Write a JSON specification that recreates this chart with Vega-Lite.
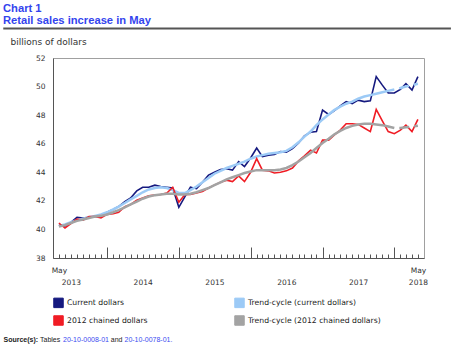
{
  "$schema": "https://vega.github.io/schema/vega-lite/v6.json",
  "width": 371,
  "height": 200,
  "autosize": {"type": "none"},
  "padding": {"left": 53, "top": 58, "right": 27, "bottom": 92},
  "background": "white",
  "config": {
    "view": {"stroke": "#a0a0a0", "strokeWidth": 1},
    "axis": {"grid": false}
  },
  "title": {
    "text": ["Chart 1", "Retail sales increase in May"],
    "anchor": "start",
    "frame": "group",
    "dx": -50,
    "offset": 1,
    "font": "Liberation Sans",
    "fontSize": 11.2,
    "fontWeight": "bold",
    "color": "#3344ee",
    "lineHeight": 12.5
  },
  "datasets": {
    "d": [
      {"date": "2013-05-01", "cur": 40.30, "tcc": 40.25, "ch": 40.45, "tch": 40.20},
      {"date": "2013-06-01", "cur": 40.25, "tcc": 40.35, "ch": 40.10, "tch": 40.30},
      {"date": "2013-07-01", "cur": 40.50, "tcc": 40.50, "ch": 40.40, "tch": 40.45},
      {"date": "2013-08-01", "cur": 40.85, "tcc": 40.65, "ch": 40.72, "tch": 40.60},
      {"date": "2013-09-01", "cur": 40.80, "tcc": 40.75, "ch": 40.65, "tch": 40.70},
      {"date": "2013-10-01", "cur": 40.85, "tcc": 40.85, "ch": 40.90, "tch": 40.80},
      {"date": "2013-11-01", "cur": 40.90, "tcc": 40.95, "ch": 40.90, "tch": 40.90},
      {"date": "2013-12-01", "cur": 40.95, "tcc": 41.05, "ch": 40.80, "tch": 40.95},
      {"date": "2014-01-01", "cur": 41.20, "tcc": 41.20, "ch": 41.05, "tch": 41.05},
      {"date": "2014-02-01", "cur": 41.40, "tcc": 41.40, "ch": 41.10, "tch": 41.20},
      {"date": "2014-03-01", "cur": 41.60, "tcc": 41.60, "ch": 41.20, "tch": 41.35},
      {"date": "2014-04-01", "cur": 41.95, "tcc": 41.85, "ch": 41.60, "tch": 41.55},
      {"date": "2014-05-01", "cur": 42.20, "tcc": 42.10, "ch": 41.75, "tch": 41.75},
      {"date": "2014-06-01", "cur": 42.70, "tcc": 42.35, "ch": 42.05, "tch": 41.95},
      {"date": "2014-07-01", "cur": 42.95, "tcc": 42.60, "ch": 42.20, "tch": 42.15},
      {"date": "2014-08-01", "cur": 42.95, "tcc": 42.80, "ch": 42.35, "tch": 42.30},
      {"date": "2014-09-01", "cur": 43.10, "tcc": 42.90, "ch": 42.40, "tch": 42.40},
      {"date": "2014-10-01", "cur": 43.00, "tcc": 42.95, "ch": 42.45, "tch": 42.45},
      {"date": "2014-11-01", "cur": 42.95, "tcc": 42.90, "ch": 42.55, "tch": 42.50},
      {"date": "2014-12-01", "cur": 42.90, "tcc": 42.75, "ch": 42.95, "tch": 42.50},
      {"date": "2015-01-01", "cur": 41.55, "tcc": 42.55, "ch": 41.90, "tch": 42.45},
      {"date": "2015-02-01", "cur": 42.30, "tcc": 42.55, "ch": 42.45, "tch": 42.45},
      {"date": "2015-03-01", "cur": 42.95, "tcc": 42.75, "ch": 42.45, "tch": 42.50},
      {"date": "2015-04-01", "cur": 42.85, "tcc": 43.00, "ch": 42.55, "tch": 42.60},
      {"date": "2015-05-01", "cur": 43.30, "tcc": 43.30, "ch": 42.65, "tch": 42.75},
      {"date": "2015-06-01", "cur": 43.80, "tcc": 43.60, "ch": 42.90, "tch": 42.90},
      {"date": "2015-07-01", "cur": 44.00, "tcc": 43.90, "ch": 43.10, "tch": 43.10},
      {"date": "2015-08-01", "cur": 44.20, "tcc": 44.10, "ch": 43.30, "tch": 43.30},
      {"date": "2015-09-01", "cur": 44.25, "tcc": 44.30, "ch": 43.45, "tch": 43.50},
      {"date": "2015-10-01", "cur": 44.15, "tcc": 44.45, "ch": 43.35, "tch": 43.65},
      {"date": "2015-11-01", "cur": 44.75, "tcc": 44.60, "ch": 43.75, "tch": 43.80},
      {"date": "2015-12-01", "cur": 44.40, "tcc": 44.75, "ch": 43.35, "tch": 43.95},
      {"date": "2016-01-01", "cur": 45.00, "tcc": 44.95, "ch": 44.00, "tch": 44.05},
      {"date": "2016-02-01", "cur": 45.70, "tcc": 45.10, "ch": 44.95, "tch": 44.15},
      {"date": "2016-03-01", "cur": 45.10, "tcc": 45.20, "ch": 44.15, "tch": 44.15},
      {"date": "2016-04-01", "cur": 45.20, "tcc": 45.30, "ch": 44.10, "tch": 44.15},
      {"date": "2016-05-01", "cur": 45.25, "tcc": 45.35, "ch": 43.95, "tch": 44.15},
      {"date": "2016-06-01", "cur": 45.45, "tcc": 45.40, "ch": 44.00, "tch": 44.20},
      {"date": "2016-07-01", "cur": 45.40, "tcc": 45.50, "ch": 44.10, "tch": 44.30},
      {"date": "2016-08-01", "cur": 45.65, "tcc": 45.75, "ch": 44.30, "tch": 44.50},
      {"date": "2016-09-01", "cur": 46.05, "tcc": 46.10, "ch": 44.80, "tch": 44.75},
      {"date": "2016-10-01", "cur": 46.55, "tcc": 46.50, "ch": 45.15, "tch": 45.05},
      {"date": "2016-11-01", "cur": 46.80, "tcc": 46.85, "ch": 45.55, "tch": 45.35},
      {"date": "2016-12-01", "cur": 46.85, "tcc": 47.30, "ch": 45.35, "tch": 45.70},
      {"date": "2017-01-01", "cur": 48.35, "tcc": 47.70, "ch": 46.25, "tch": 46.05},
      {"date": "2017-02-01", "cur": 48.05, "tcc": 48.05, "ch": 46.25, "tch": 46.35},
      {"date": "2017-03-01", "cur": 48.30, "tcc": 48.35, "ch": 46.60, "tch": 46.65},
      {"date": "2017-04-01", "cur": 48.65, "tcc": 48.60, "ch": 46.95, "tch": 46.90},
      {"date": "2017-05-01", "cur": 48.95, "tcc": 48.80, "ch": 47.40, "tch": 47.10},
      {"date": "2017-06-01", "cur": 48.80, "tcc": 48.95, "ch": 47.40, "tch": 47.25},
      {"date": "2017-07-01", "cur": 49.05, "tcc": 49.15, "ch": 47.35, "tch": 47.35},
      {"date": "2017-08-01", "cur": 48.95, "tcc": 49.30, "ch": 47.10, "tch": 47.40},
      {"date": "2017-09-01", "cur": 49.00, "tcc": 49.40, "ch": 46.85, "tch": 47.40},
      {"date": "2017-10-01", "cur": 50.70, "tcc": 49.50, "ch": 48.40, "tch": 47.35},
      {"date": "2017-11-01", "cur": 50.10, "tcc": 49.60, "ch": 47.60, "tch": 47.30},
      {"date": "2017-12-01", "cur": 49.55, "tcc": 49.70, "ch": 46.85, "tch": 47.20},
      {"date": "2018-01-01", "cur": 49.55, "tcc": 49.80, "ch": 46.70, "tch": 47.10},
      {"date": "2018-02-01", "cur": 49.80, "tcc": 49.90, "ch": 46.95, "tch": 47.10},
      {"date": "2018-03-01", "cur": 50.20, "tcc": 50.00, "ch": 47.30, "tch": 47.15},
      {"date": "2018-04-01", "cur": 49.75, "tcc": 50.10, "ch": 46.85, "tch": 47.20},
      {"date": "2018-05-01", "cur": 50.70, "tcc": 50.20, "ch": 47.70, "tch": 47.25}
    ]
  },
  "data": {"name": "d"},
  "resolve": {"axis": {"x": "independent", "y": "independent"}},
  "layer": [
    {
      "mark": {"type": "line", "strokeWidth": 1.6},
      "encoding": {
        "x": {
          "field": "date", "type": "temporal",
          "scale": {"type": "utc", "domain": [{"year": 2013, "month": 4, "date": 1, "utc": true}, {"year": 2018, "month": 6, "date": 1, "utc": true}]},
          "axis": {
            "orient": "bottom",
            "values": [
              {"year": 2013, "month": 5, "date": 1, "utc": true},
              {"year": 2013, "month": 7, "date": 1, "utc": true},
              {"year": 2014, "month": 7, "date": 1, "utc": true},
              {"year": 2015, "month": 7, "date": 1, "utc": true},
              {"year": 2016, "month": 7, "date": 1, "utc": true},
              {"year": 2017, "month": 7, "date": 1, "utc": true},
              {"year": 2018, "month": 5, "date": 1, "utc": true}
            ],
            "labelExpr": "utcmonth(datum.value) == 4 ? ['May', utcyear(datum.value) == 2018 ? '2018' : ''] : ['', '' + utcyear(datum.value)]",
            "ticks": false,
            "domain": true,
            "domainColor": "#555555",
            "grid": false,
            "labelOverlap": false,
            "labelFlush": false,
            "labelBound": false,
            "labelPadding": 8,
            "labelLineHeight": 12,
            "labelFont": "DejaVu Sans",
            "labelFontSize": 7.5,
            "labelColor": "#333333",
            "labelAlign": "center",
            "labelBaseline": "top",
            "title": "Source(s):",
            "titleX": -50,
            "titleY": 81.5,
            "titleAngle": 0,
            "titleAlign": "left",
            "titleBaseline": "middle",
            "titleFont": "Liberation Sans",
            "titleFontSize": 7,
            "titleFontWeight": "bold",
            "titleColor": "#222222"
          }
        },
        "y": {
          "field": "cur", "type": "quantitative",
          "scale": {"domain": [38, 52]},
          "axis": {
            "orient": "left",
            "values": [38, 40, 42, 44, 46, 48, 50, 52],
            "ticks": false,
            "grid": false,
            "domainColor": "#555555",
            "labelPadding": 8,
            "labelFlush": false,
            "labelFont": "DejaVu Sans",
            "labelFontSize": 7.5,
            "labelColor": "#333333",
            "title": "billions of dollars",
            "titleAngle": 0,
            "titleAlign": "left",
            "titleBaseline": "middle",
            "titleX": -43,
            "titleY": -17,
            "titleFont": "DejaVu Sans",
            "titleFontSize": 9,
            "titleFontWeight": "normal",
            "titleColor": "#333333"
          }
        },
        "color": {
          "datum": "Current dollars", "type": "nominal",
          "scale": {
            "domain": ["Current dollars", "Trend-cycle (current dollars)", "2012 chained dollars", "Trend-cycle (2012 chained dollars)"],
            "range": ["#15197f", "#9ccaf6", "#f01c24", "#a3a3a3"]
          },
          "legend": {
            "orient": "none",
            "direction": "horizontal",
            "legendX": 0,
            "legendY": 239,
            "columns": 2,
            "columnPadding": 84,
            "rowPadding": 3,
            "padding": 0,
            "title": null,
            "symbolType": "square",
            "symbolSize": 90,
            "symbolStrokeColor": "#777777",
            "symbolStrokeWidth": 1,
            "labelFont": "DejaVu Sans",
            "labelFontSize": 7.7,
            "labelColor": "#222222",
            "labelOffset": 3,
            "encode": {
              "symbols": {
                "update": {
                  "fill": {"scale": "color", "field": "value"},
                  "stroke": {"value": "#777777"},
                  "strokeWidth": {"value": 1},
                  "opacity": {"value": 1}
                }
              }
            }
          }
        }
      }
    },
    {
      "transform": [{"filter": {"field": "date", "lte": {"year": 2018, "month": 1, "date": 1, "utc": true}}}],
      "mark": {"type": "line", "strokeWidth": 2.5},
      "encoding": {
        "x": {
          "field": "date", "type": "temporal",
          "scale": {"type": "utc", "domain": [{"year": 2013, "month": 4, "date": 1, "utc": true}, {"year": 2018, "month": 6, "date": 1, "utc": true}]},
          "axis": {
            "orient": "bottom",
            "values": [
              {"year": 2013, "month": 5, "date": 1, "utc": true}, {"year": 2013, "month": 6, "date": 1, "utc": true}, {"year": 2013, "month": 7, "date": 1, "utc": true}, {"year": 2013, "month": 8, "date": 1, "utc": true}, {"year": 2013, "month": 9, "date": 1, "utc": true}, {"year": 2013, "month": 10, "date": 1, "utc": true}, {"year": 2013, "month": 11, "date": 1, "utc": true}, {"year": 2013, "month": 12, "date": 1, "utc": true},
              {"year": 2014, "month": 1, "date": 1, "utc": true}, {"year": 2014, "month": 2, "date": 1, "utc": true}, {"year": 2014, "month": 3, "date": 1, "utc": true}, {"year": 2014, "month": 4, "date": 1, "utc": true}, {"year": 2014, "month": 5, "date": 1, "utc": true}, {"year": 2014, "month": 6, "date": 1, "utc": true}, {"year": 2014, "month": 7, "date": 1, "utc": true}, {"year": 2014, "month": 8, "date": 1, "utc": true}, {"year": 2014, "month": 9, "date": 1, "utc": true}, {"year": 2014, "month": 10, "date": 1, "utc": true}, {"year": 2014, "month": 11, "date": 1, "utc": true}, {"year": 2014, "month": 12, "date": 1, "utc": true},
              {"year": 2015, "month": 1, "date": 1, "utc": true}, {"year": 2015, "month": 2, "date": 1, "utc": true}, {"year": 2015, "month": 3, "date": 1, "utc": true}, {"year": 2015, "month": 4, "date": 1, "utc": true}, {"year": 2015, "month": 5, "date": 1, "utc": true}, {"year": 2015, "month": 6, "date": 1, "utc": true}, {"year": 2015, "month": 7, "date": 1, "utc": true}, {"year": 2015, "month": 8, "date": 1, "utc": true}, {"year": 2015, "month": 9, "date": 1, "utc": true}, {"year": 2015, "month": 10, "date": 1, "utc": true}, {"year": 2015, "month": 11, "date": 1, "utc": true}, {"year": 2015, "month": 12, "date": 1, "utc": true},
              {"year": 2016, "month": 1, "date": 1, "utc": true}, {"year": 2016, "month": 2, "date": 1, "utc": true}, {"year": 2016, "month": 3, "date": 1, "utc": true}, {"year": 2016, "month": 4, "date": 1, "utc": true}, {"year": 2016, "month": 5, "date": 1, "utc": true}, {"year": 2016, "month": 6, "date": 1, "utc": true}, {"year": 2016, "month": 7, "date": 1, "utc": true}, {"year": 2016, "month": 8, "date": 1, "utc": true}, {"year": 2016, "month": 9, "date": 1, "utc": true}, {"year": 2016, "month": 10, "date": 1, "utc": true}, {"year": 2016, "month": 11, "date": 1, "utc": true}, {"year": 2016, "month": 12, "date": 1, "utc": true},
              {"year": 2017, "month": 1, "date": 1, "utc": true}, {"year": 2017, "month": 2, "date": 1, "utc": true}, {"year": 2017, "month": 3, "date": 1, "utc": true}, {"year": 2017, "month": 4, "date": 1, "utc": true}, {"year": 2017, "month": 5, "date": 1, "utc": true}, {"year": 2017, "month": 6, "date": 1, "utc": true}, {"year": 2017, "month": 7, "date": 1, "utc": true}, {"year": 2017, "month": 8, "date": 1, "utc": true}, {"year": 2017, "month": 9, "date": 1, "utc": true}, {"year": 2017, "month": 10, "date": 1, "utc": true}, {"year": 2017, "month": 11, "date": 1, "utc": true}, {"year": 2017, "month": 12, "date": 1, "utc": true},
              {"year": 2018, "month": 1, "date": 1, "utc": true}, {"year": 2018, "month": 2, "date": 1, "utc": true}, {"year": 2018, "month": 3, "date": 1, "utc": true}, {"year": 2018, "month": 4, "date": 1, "utc": true}, {"year": 2018, "month": 5, "date": 1, "utc": true}
            ],
            "ticks": true, "tickSize": -4, "tickColor": "#555555", "tickWidth": 1,
            "labels": false, "domain": false, "grid": false,
            "title": "Tables",
            "titleX": -13.5, "titleY": 81.5, "titleAngle": 0,
            "titleAlign": "left", "titleBaseline": "middle",
            "titleFont": "Liberation Sans", "titleFontSize": 7, "titleFontWeight": "normal", "titleColor": "#222222"
          }
        },
        "y": {"field": "tcc", "type": "quantitative", "scale": {"domain": [38, 52]}, "axis": null},
        "color": {"datum": "Trend-cycle (current dollars)", "type": "nominal", "legend": null}
      }
    },
    {
      "transform": [{"filter": {"field": "date", "gte": {"year": 2018, "month": 1, "date": 1, "utc": true}}}],
      "mark": {"type": "line", "strokeWidth": 2.5, "strokeDash": [10, 5], "strokeDashOffset": 10},
      "encoding": {
        "x": {
          "field": "date", "type": "temporal",
          "scale": {"type": "utc", "domain": [{"year": 2013, "month": 4, "date": 1, "utc": true}, {"year": 2018, "month": 6, "date": 1, "utc": true}]},
          "axis": {
            "orient": "bottom",
            "values": [
              {"year": 2014, "month": 1, "date": 1, "utc": true},
              {"year": 2015, "month": 1, "date": 1, "utc": true},
              {"year": 2016, "month": 1, "date": 1, "utc": true},
              {"year": 2017, "month": 1, "date": 1, "utc": true},
              {"year": 2018, "month": 1, "date": 1, "utc": true}
            ],
            "ticks": true, "tickSize": -11, "tickColor": "#555555", "tickWidth": 1,
            "labels": false, "domain": false, "grid": false,
            "title": "20-10-0008-01",
            "titleX": 9.5, "titleY": 81.5, "titleAngle": 0,
            "titleAlign": "left", "titleBaseline": "middle",
            "titleFont": "Liberation Sans", "titleFontSize": 7, "titleFontWeight": "normal", "titleColor": "#3b4cf0"
          }
        },
        "y": {"field": "tcc", "type": "quantitative", "scale": {"domain": [38, 52]}, "axis": null},
        "color": {"datum": "Trend-cycle (current dollars)", "type": "nominal", "legend": null}
      }
    },
    {
      "mark": {"type": "line", "strokeWidth": 1.6},
      "encoding": {
        "x": {
          "field": "date", "type": "temporal",
          "scale": {"type": "utc", "domain": [{"year": 2013, "month": 4, "date": 1, "utc": true}, {"year": 2018, "month": 6, "date": 1, "utc": true}]},
          "axis": {
            "orient": "bottom",
            "ticks": false, "labels": false, "domain": false, "grid": false,
            "title": "and",
            "titleX": 57.3, "titleY": 81.5, "titleAngle": 0,
            "titleAlign": "left", "titleBaseline": "middle",
            "titleFont": "Liberation Sans", "titleFontSize": 7, "titleFontWeight": "normal", "titleColor": "#222222"
          }
        },
        "y": {"field": "ch", "type": "quantitative", "scale": {"domain": [38, 52]}, "axis": null},
        "color": {"datum": "2012 chained dollars", "type": "nominal", "legend": null}
      }
    },
    {
      "transform": [{"filter": {"field": "date", "lte": {"year": 2018, "month": 1, "date": 1, "utc": true}}}],
      "mark": {"type": "line", "strokeWidth": 2.5},
      "encoding": {
        "x": {
          "field": "date", "type": "temporal",
          "scale": {"type": "utc", "domain": [{"year": 2013, "month": 4, "date": 1, "utc": true}, {"year": 2018, "month": 6, "date": 1, "utc": true}]},
          "axis": {
            "orient": "bottom",
            "ticks": false, "labels": false, "domain": false, "grid": false,
            "title": "20-10-0078-01.",
            "titleX": 71, "titleY": 81.5, "titleAngle": 0,
            "titleAlign": "left", "titleBaseline": "middle",
            "titleFont": "Liberation Sans", "titleFontSize": 7, "titleFontWeight": "normal", "titleColor": "#3b4cf0"
          }
        },
        "y": {"field": "tch", "type": "quantitative", "scale": {"domain": [38, 52]}, "axis": null},
        "color": {"datum": "Trend-cycle (2012 chained dollars)", "type": "nominal", "legend": null}
      }
    },
    {
      "transform": [{"filter": {"field": "date", "gte": {"year": 2018, "month": 1, "date": 1, "utc": true}}}],
      "mark": {"type": "line", "strokeWidth": 2.5, "strokeDash": [10, 5], "strokeDashOffset": 10},
      "encoding": {
        "x": {
          "field": "date", "type": "temporal",
          "scale": {"type": "utc", "domain": [{"year": 2013, "month": 4, "date": 1, "utc": true}, {"year": 2018, "month": 6, "date": 1, "utc": true}]},
          "axis": null
        },
        "y": {"field": "tch", "type": "quantitative", "scale": {"domain": [38, 52]}, "axis": null},
        "color": {"datum": "Trend-cycle (2012 chained dollars)", "type": "nominal", "legend": null}
      }
    },
    {
      "data": {"values": [{}]},
      "mark": {"type": "rule", "color": "#555555", "strokeWidth": 2},
      "encoding": {
        "x": {"datum": {"year": 2012, "month": 7, "date": 22, "utc": true}, "type": "temporal", "scale": {"type": "utc", "domain": [{"year": 2013, "month": 4, "date": 1, "utc": true}, {"year": 2018, "month": 6, "date": 1, "utc": true}]}, "axis": null},
        "x2": {"datum": {"year": 2018, "month": 10, "date": 16, "utc": true}},
        "y": {"datum": 54.06, "type": "quantitative", "scale": {"domain": [38, 52]}, "axis": null}
      }
    }
  ]
}
